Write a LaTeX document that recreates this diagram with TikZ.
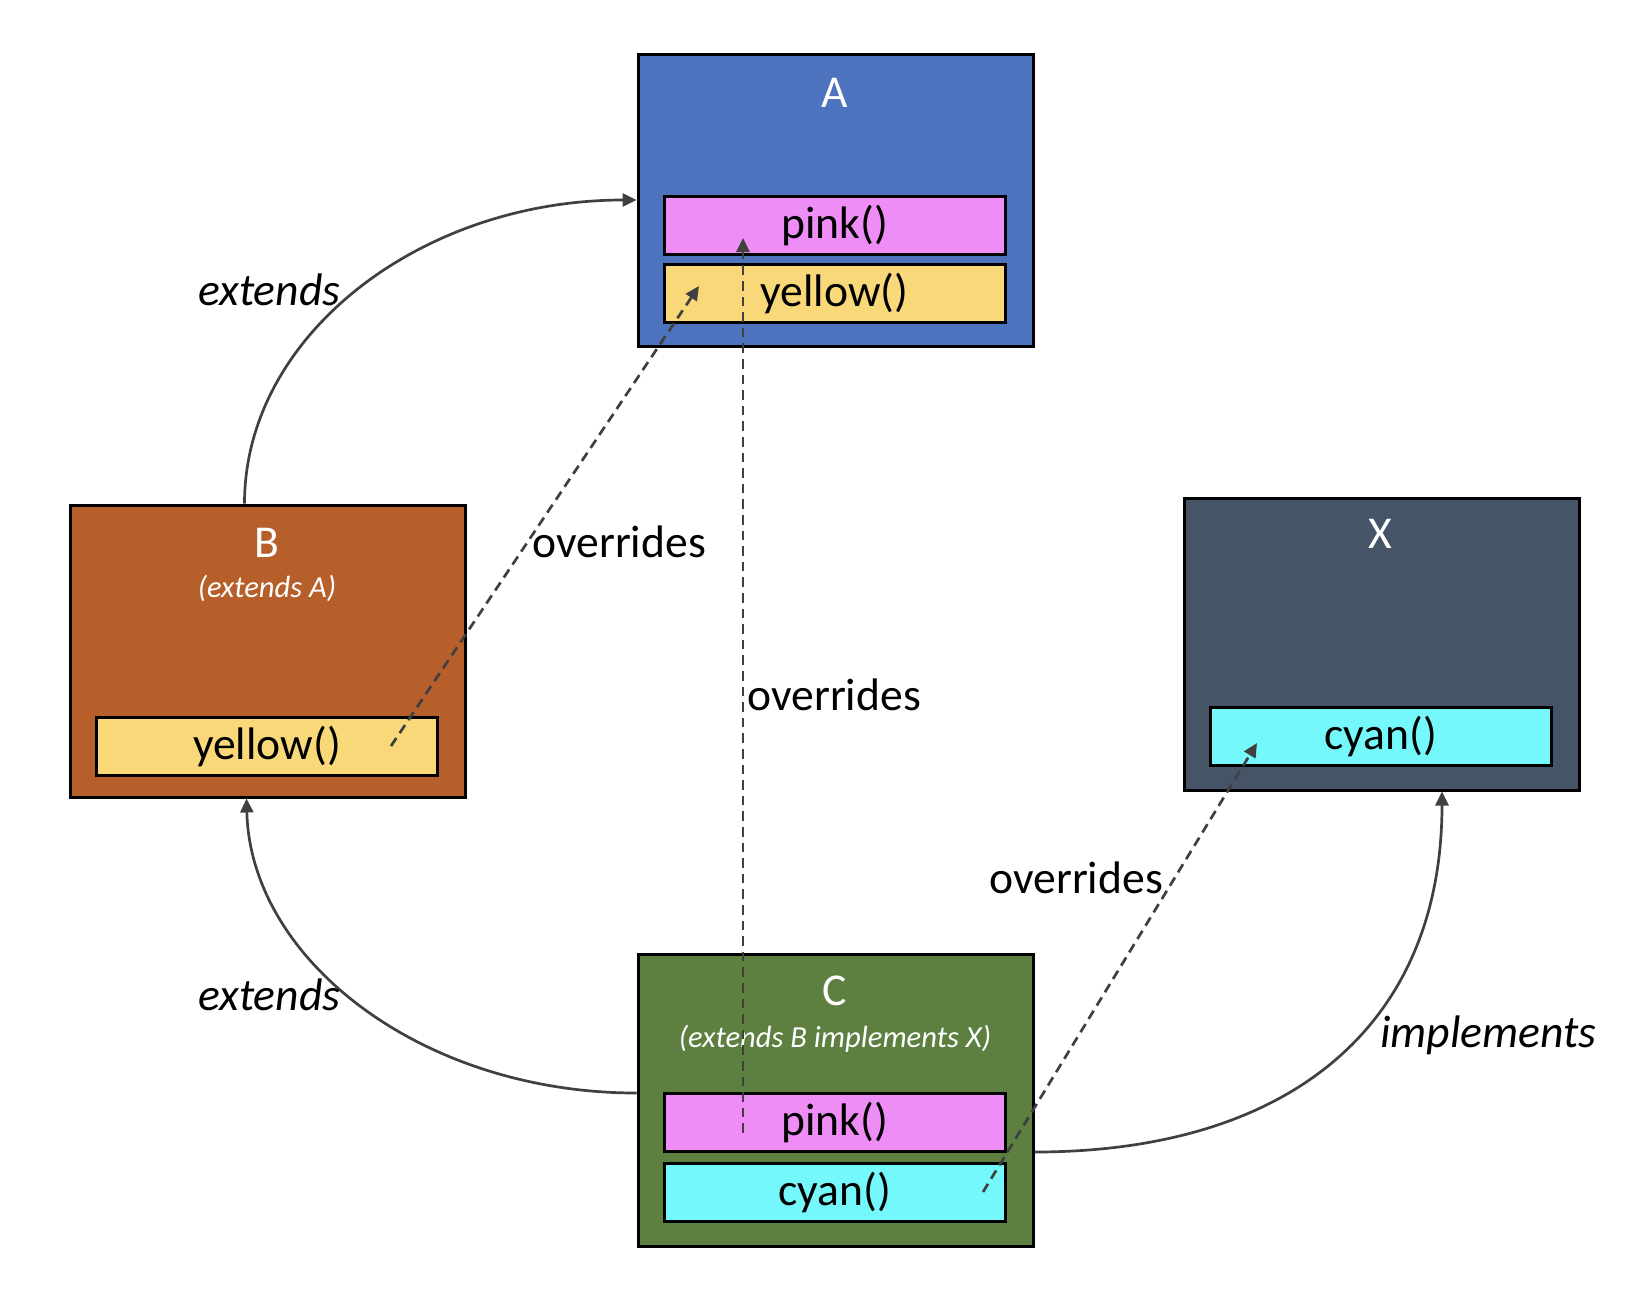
\documentclass[tikz,border=0pt]{standalone}
\usepackage{fontspec}
\setmainfont{Carlito}
\usetikzlibrary{arrows.meta,calc}
\definecolor{clsA}{HTML}{4E73BE}
\definecolor{clsB}{HTML}{B65F2A}
\definecolor{clsX}{HTML}{465468}
\definecolor{clsC}{HTML}{5D7F3F}
\definecolor{mpink}{HTML}{EE8DF5}
\definecolor{myellow}{HTML}{F8D879}
\definecolor{mcyan}{HTML}{75F8FB}
\definecolor{linegray}{HTML}{404040}
\begin{document}
\begin{tikzpicture}[x=0.5pt,y=-0.5pt,
  cls/.style={draw=black, line width=1.5pt, minimum width=197.5pt, minimum height=146pt, inner sep=0pt},
  meth/.style={draw=black, line width=1.5pt, minimum width=170.5pt, minimum height=29pt, inner sep=0pt, font=\fontsize{22.8}{27}\selectfont},
  ttl/.style={text=white, anchor=base, font=\fontsize{22.8}{27}\selectfont},
  subttl/.style={text=white, anchor=base, font=\itshape\fontsize{15.3}{18}\selectfont},
  lbl/.style={anchor=base west, inner sep=0pt, font=\fontsize{22.8}{27}\selectfont},
  ilbl/.style={anchor=base west, inner sep=0pt, font=\itshape\fontsize{22.8}{27}\selectfont},
  rel/.style={draw=linegray, line width=1.35pt, -{Triangle[length=7pt,width=6.5pt]}},
  ovr/.style={rel, dash pattern=on 4.8pt off 3pt}]
\useasboundingbox (0,0) rectangle (1644,1308);

% class boxes
\node[cls, fill=clsA] (A) at (835.5,200) {};
\node[cls, fill=clsB] (B) at (268,651) {};
\node[cls, fill=clsX] (X) at (1381.5,644) {};
\node[cls, fill=clsC] (C) at (835.5,1100.5) {};

% method boxes
\node[meth, fill=mpink] (pA) at (834.5,225.5) {pink()};
\node[meth, fill=myellow] (yA) at (834.5,293.5) {yellow()};
\node[meth, fill=myellow] (yB) at (267,746) {yellow()};
\node[meth, fill=mcyan] (cX) at (1381,736.5) {cyan()};
\node[meth, fill=mpink] (pC) at (834.5,1122) {pink()};
\node[meth, fill=mcyan] (cC) at (834.5,1192) {cyan()};

% titles
\node[ttl] (tA) at (835,107) {A};
\node[ttl] (tB) at (267,557) {B};
\node[subttl] (sB) at (267,597) {(extends A)};
\node[ttl] (tX) at (1380,548) {X};
\node[ttl] (tC) at (835,1005) {C};
\node[subttl] (sC) at (835,1047) {(extends B implements X)};

% inheritance arcs
\draw[rel] ($(B.north west)+(175.5,0)$) .. controls +(0,-168) and +(-216,0) .. (A.west);
\draw[rel] ($(C.west)+(0,-7.5)$) .. controls +(-214,0) and +(4,162) .. ($(B.south west)+(177.5,0)$);
\draw[rel] ($(C.east)+(0,51.5)$) .. controls +(254,0) and +(0,235) .. ($(X.south)+(60.5,0)$);

% overrides
\draw[ovr] ($(yB.center)+(124,0)$) -- ($(yA.center)+(-135.5,-7.5)$);
\draw[ovr] ($(pC.center)+(-91.5,11)$) -- ($(pA.center)+(-91.5,12.5)$);
\draw[ovr] ($(cC.center)+(148.5,0)$) -- ($(cX.center)+(-124,6.5)$);

% labels
\node[ilbl] (l1) at (198,305) {extends};
\node[ilbl] (l2) at (198,1010) {extends};
\node[lbl] (l3) at (532,557) {overrides};
\node[lbl] (l4) at (747,710) {overrides};
\node[lbl] (l5) at (989,893) {overrides};
\node[ilbl] (l6) at (1380,1047) {implements};
\end{tikzpicture}
\end{document}
